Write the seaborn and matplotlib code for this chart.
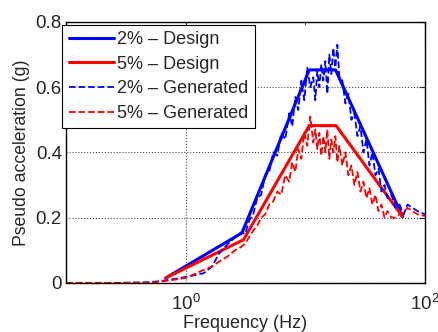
import numpy as np
import seaborn as sns
import matplotlib.pyplot as plt
from matplotlib.ticker import FixedLocator, NullFormatter

# spectres de dimensionnement
f_design_2 = [0.68, 2.95, 10.8, 17.9, 65.0]
sa_design_2 = [0.015, 0.153, 0.653, 0.653, 0.203]
f_design_5 = [0.68, 3.04, 10.8, 18.1, 65.0]
sa_design_5 = [0.015, 0.132, 0.482, 0.482, 0.203]

# spectres des accélérogrammes générés
f_gen = [0.1, 0.276, 0.49, 0.60, 0.75, 1.0, 1.42, 1.66, 1.90, 2.22, 2.59, 2.91,
         3.14, 3.39, 3.67, 3.96, 4.28, 4.62, 4.99, 5.39, 5.83, 6.29, 6.80, 7.34,
         7.78, 8.25, 8.74, 9.26, 9.81, 10.39, 11.01, 11.67, 12.13, 12.61, 13.10,
         13.62, 14.15, 14.71, 15.29, 15.89, 16.51, 17.16, 17.84, 18.54, 19.28,
         20.42, 21.64, 22.94, 24.30, 25.75, 27.29, 28.91, 30.63, 32.47, 34.40,
         36.45, 38.63, 40.93, 43.36, 45.95, 48.68, 52.60, 56.81, 61.37, 66.30,
         71.61, 78.87, 86.86, 100.0]
sa_gen_2 = [0.0, 0.0, 0.002, 0.005, 0.01, 0.018, 0.03, 0.05, 0.09, 0.117, 0.14, 0.155,
            0.15, 0.19, 0.21, 0.26, 0.27, 0.33, 0.34, 0.40, 0.39, 0.46, 0.44, 0.52,
            0.48, 0.57, 0.53, 0.62, 0.56, 0.66, 0.60, 0.63, 0.56, 0.65, 0.60,
            0.67, 0.62, 0.68, 0.58, 0.70, 0.64, 0.72, 0.66, 0.73, 0.63,
            0.62, 0.55, 0.58, 0.50, 0.52, 0.45, 0.48, 0.40, 0.44, 0.36,
            0.40, 0.33, 0.35, 0.28, 0.30, 0.26, 0.27, 0.23, 0.24, 0.21,
            0.24, 0.23, 0.22, 0.21]
sa_gen_5 = [0.0, 0.0, 0.0, 0.003, 0.008, 0.015, 0.04, 0.05, 0.065, 0.08, 0.10, 0.11,
            0.12, 0.14, 0.16, 0.175, 0.20, 0.21, 0.24, 0.25, 0.28, 0.27, 0.33, 0.31,
            0.37, 0.34, 0.41, 0.38, 0.46, 0.42, 0.51, 0.43, 0.47, 0.41, 0.46,
            0.39, 0.45, 0.40, 0.47, 0.38, 0.44, 0.40, 0.45, 0.37, 0.42,
            0.36, 0.40, 0.33, 0.36, 0.30, 0.34, 0.28, 0.31, 0.26, 0.29,
            0.24, 0.27, 0.22, 0.24, 0.20, 0.22, 0.20, 0.20, 0.21, 0.215,
            0.23, 0.22, 0.21, 0.205]

sns.set_style("white")
plt.rcParams['font.family'] = ['Liberation Sans', 'DejaVu Sans']
plt.rcParams['mathtext.fontset'] = 'custom'
plt.rcParams['mathtext.rm'] = 'Liberation Sans'
plt.rcParams['mathtext.it'] = 'Liberation Sans'

fig = plt.figure(figsize=(4.38, 3.32), dpi=100)
ax = fig.add_axes([0.151, 0.148, 0.819, 0.786])

sns.lineplot(x=f_design_2, y=sa_design_2, color='blue', lw=2.2, label='2% – Design', ax=ax)
sns.lineplot(x=f_design_5, y=sa_design_5, color='red', lw=2.2, label='5% – Design', ax=ax)
sns.lineplot(x=f_gen, y=sa_gen_2, color='blue', lw=1.3, linestyle='--', label='2% – Generated', ax=ax)
sns.lineplot(x=f_gen, y=sa_gen_5, color='red', lw=1.3, linestyle='--', label='5% – Generated', ax=ax)

ax.set_xscale('log')
ax.set_xlim(0.1, 100)
ax.set_ylim(0, 0.8)
ax.xaxis.set_major_locator(FixedLocator([1, 100]))
ax.xaxis.set_minor_locator(FixedLocator([10]))
ax.xaxis.set_minor_formatter(NullFormatter())
ax.set_xticklabels(['$10^0$', '$10^2$'])
ax.set_yticks([0, 0.2, 0.4, 0.6, 0.8])
ax.set_yticklabels(['0', '0.2', '0.4', '0.6', '0.8'])
ax.tick_params(direction='in', top=True, right=True, labelsize=13.5, length=4, width=0.8, pad=3)
ax.tick_params(axis='x', pad=8)
ax.tick_params(which='minor', direction='in', top=True, length=2)
ax.grid(True, which='major', color='0.3', linestyle=':', lw=0.8)

for s in ax.spines.values():
    s.set_color('black')
    s.set_linewidth(1.0)

ax.set_xlabel('Frequency (Hz)', fontsize=13, labelpad=1)
ax.set_ylabel('Pseudo acceleration (g)', fontsize=12.7, labelpad=4)

leg = ax.legend(loc='upper left', bbox_to_anchor=(-0.011, 0.989), fontsize=13,
                frameon=True, fancybox=False, edgecolor='black', framealpha=1,
                handlelength=2.5, borderaxespad=0, labelspacing=0.42,
                handletextpad=0.2, borderpad=0.35)
leg.get_frame().set_linewidth(0.8)

fig.savefig('out.png', dpi=100)
